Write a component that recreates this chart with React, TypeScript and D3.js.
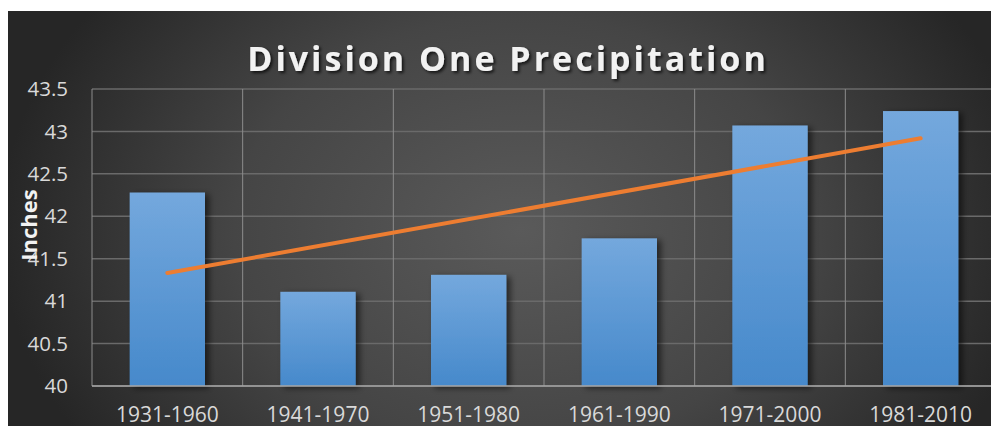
import React from "react";
import * as d3 from "d3";

const categories = ["1931-1960", "1941-1970", "1951-1980", "1961-1990", "1971-2000", "1981-2010"];
const precipitation = [42.28, 41.11, 41.31, 41.74, 43.07, 43.24];
const yTicks = [40, 40.5, 41, 41.5, 42, 42.5, 43, 43.5];
const yTickLabels = ["40", "40.5", "41", "41.5", "42", "42.5", "43", "43.5"];
const title = "Division One Precipitation";
const yTitle = "Inches";

export default function App() {
  const left = 92, right = 996, top = 89, bottom = 386;
  const x = d3.scaleBand<string>().domain(categories).range([left, right]).paddingInner(0.5).paddingOuter(0.25);
  const y = d3.scaleLinear().domain([40, 43.5]).range([bottom, top]);
  const step = x.step();

  // linear trendline (least squares)
  const n = precipitation.length;
  const xs = precipitation.map((_, i) => i + 1);
  const mx = d3.mean(xs)!;
  const my = d3.mean(precipitation)!;
  const slope = d3.sum(xs.map((xi, i) => (xi - mx) * (precipitation[i] - my))) / d3.sum(xs.map((xi) => (xi - mx) ** 2));
  const intercept = my - slope * mx;
  const trend = xs.map((xi, i) => [x(categories[i])! + x.bandwidth() / 2, y(intercept + slope * xi)] as [number, number]);
  const trendPath = d3.line()([trend[0], trend[n - 1]])!;

  const font = "'Open Sans', 'DejaVu Sans', sans-serif";

  return (
    <svg width={991} height={418} style={{ display: "block", overflow: "visible" }}>
      <defs>
        <radialGradient id="bg" gradientUnits="userSpaceOnUse" cx={520} cy={230} r={520} gradientTransform="translate(520 230) scale(1 0.75) translate(-520 -230)">
          <stop offset="0" stopColor="#5a5a5a" />
          <stop offset="0.55" stopColor="#454545" />
          <stop offset="1" stopColor="#262626" />
        </radialGradient>
        <linearGradient id="bar" x1="0" y1="0" x2="0" y2="1">
          <stop offset="0" stopColor="#74a8dd" />
          <stop offset="1" stopColor="#4689cb" />
        </linearGradient>
        <filter id="barShadow" x="-20%" y="-20%" width="150%" height="150%">
          <feDropShadow dx="4" dy="2" stdDeviation="3" floodColor="#000" floodOpacity="0.55" />
        </filter>
        <filter id="textShadow" x="-10%" y="-30%" width="120%" height="160%">
          <feDropShadow dx="2" dy="2" stdDeviation="1.5" floodColor="#000" floodOpacity="0.7" />
        </filter>
      </defs>
      <g transform="translate(-8,-8)">
        <rect x={8} y={11} width={1000} height={420} fill="url(#bg)" />
        <text x={508} y={71} textAnchor="middle" fill="#f2f2f2" fontFamily={font} fontWeight={700} fontSize={34} letterSpacing={3} filter="url(#textShadow)">
          {title}
        </text>
        {/* horizontal gridlines */}
        {yTicks.map((t) => (
          <line key={"h" + t} x1={left} x2={right} y1={y(t)} y2={y(t)} stroke="#6a6a6a" strokeWidth={1.5} />
        ))}
        {/* vertical gridlines at category boundaries */}
        {d3.range(categories.length + 1).map((i) => (
          <line key={"v" + i} x1={left + i * step} x2={left + i * step} y1={top} y2={bottom} stroke="#8c8c8c" strokeWidth={1} />
        ))}
        {/* bars */}
        {categories.map((c, i) => (
          <rect key={c} x={x(c)} y={y(precipitation[i])} width={x.bandwidth()} height={bottom - y(precipitation[i])} fill="url(#bar)" filter="url(#barShadow)" />
        ))}
        {/* axis line */}
        <line x1={left} x2={right} y1={bottom} y2={bottom} stroke="#a6a6a6" strokeWidth={1.5} />
        <path d={trendPath} stroke="#ed7d31" strokeWidth={4} fill="none" strokeLinecap="round" />
        {/* y tick labels */}
        {yTicks.map((t, i) => (
          <text key={"yl" + t} x={68} y={y(t)} dy="0.35em" textAnchor="end" fill="#d9d9d9" fontFamily={font} fontSize={20.5}>
            {yTickLabels[i]}
          </text>
        ))}
        {/* x tick labels */}
        {categories.map((c) => (
          <text key={"xl" + c} x={x(c)! + x.bandwidth() / 2} y={422} textAnchor="middle" fill="#d9d9d9" fontFamily={font} fontSize={21}>
            {c}
          </text>
        ))}
        <text transform="translate(37,225) rotate(-90)" textAnchor="middle" fill="#f2f2f2" fontFamily={font} fontWeight={700} fontSize={22}>
          {yTitle}
        </text>
      </g>
    </svg>
  );
}
